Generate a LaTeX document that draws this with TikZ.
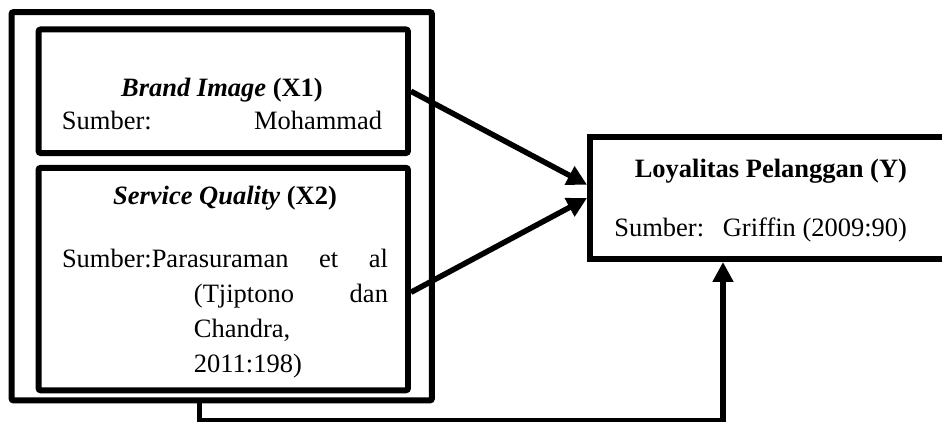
\documentclass[tikz,border=0pt]{standalone}
\usepackage{fontspec}
\setmainfont{Liberation Serif}
\usepackage{tikz}
\usetikzlibrary{arrows.meta, positioning, shapes}
\tikzstyle{arrow} = [line width=2.5pt, -{Triangle[length=9pt, width=9pt]}]
\tikzstyle{kotak} = [draw, rectangle, line width=2.7pt, rounded corners=1pt, minimum width=167.4pt]

\begin{document}
\begin{tikzpicture}[x=0.4531pt, y=-0.4531pt, font=\fontsize{12}{14.5}\selectfont]
  \useasboundingbox (0,0) rectangle (942,422);
  \clip (0,0) rectangle (942,422);

  % Nodes
  \node (bingkai) [draw, rectangle, line width=2.7pt, rounded corners=1pt, minimum width=190.5pt, minimum height=176pt] at (221.75,206.25) {};
  \node (brand) [kotak, minimum height=56pt] at (223.25,91.25) {};
  \node (service) [kotak, minimum height=100.8pt, below=4pt of brand] {};
  \node (loyal) [draw, rectangle, line width=2.7pt, minimum width=167.6pt, minimum height=55.3pt] at (775,198) {};

  % Texts
  \node (brandtxt) [text width=145pt, align=flush center, anchor=base, inner sep=0pt] at (222,97)
    {\textbf{\textit{Brand Image} (X1)}\\
     Sumber:\hfill Mohammad};
  \node (servicetxt) [text width=147.7pt, align=flush center, anchor=base, inner sep=0pt, font=\fontsize{12}{16}\selectfont] at (225,205)
    {\textbf{\textit{Service Quality} (X2)}\\[12.1pt]
     Sumber:Parasuraman\hfill et\hfill al\\
     \hspace*{59.8pt}(Tjiptono\hfill dan\\
     \hspace*{59.8pt}Chandra,\hfill\mbox{}\\
     \hspace*{59.8pt}2011:198)\hfill\mbox{}};
  \node (loyaltxt) [text width=140pt, align=flush right, anchor=base, inner sep=0pt] at (752.5,178)
    {\textbf{Loyalitas Pelanggan (Y)}\\[12.2pt]
     Sumber:\hspace{8.5pt}Griffin (2009:90)};
  \coordinate (belok) at (723,421);

  % Arrows
  \draw[arrow] (brand.east) -- ([yshift=6pt]loyal.west);
  \draw[arrow] ([yshift=-6pt]service.east) -- (loyal.west);
  \draw[arrow] ([xshift=-10pt]bingkai.south) |- (belok) -- (belok |- loyal.south);
\end{tikzpicture}
\end{document}
